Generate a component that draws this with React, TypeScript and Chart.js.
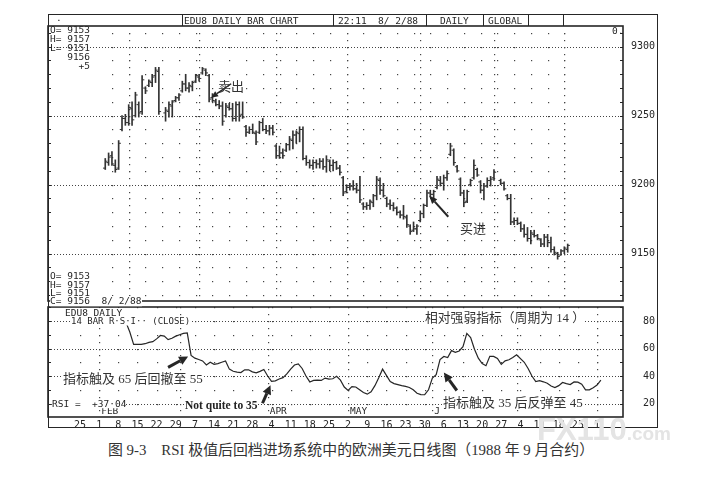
import { useEffect, useRef } from "react"
import { Chart, registerables } from "chart.js"

Chart.register(...registerables)

// one slot per weekday: slot 0 = Mon 25 Jan 1988, the first bar is Thu 21 Jan (slot -2)
// null = exchange holiday (15 Feb, 4 Jul)
const firstSlot = -2
const highs = [
  9219, 9223, 9224, 9218, 9232, 9250, 9251, 9258, 9260, 9267, 9260, 9279, 9271, 9276, 9280, 9285, 9285,
  null,
  9256, 9260, 9261, 9264, 9266, 9275, 9280, 9274, 9275, 9280, 9280, 9285, 9284, 9280, 9266, 9262, 9261, 9260, 9259, 9259, 9259, 9260, 9260, 9260,
  9243, 9242, 9244, 9239, 9246, 9248, 9243, 9243, 9243, 9229, 9228, 9226, 9230, 9235, 9239, 9239, 9242, 9242, 9221, 9218, 9218, 9218, 9219, 9219, 9221, 9218, 9218, 9217, 9214,
  9206, 9200, 9201, 9203, 9201, 9206, 9187, 9187, 9189, 9193, 9206, 9205, 9201, 9191, 9189, 9187, 9184, 9181, 9185, 9178, 9171, 9173, 9171, 9181, 9186, 9196, 9196, 9196, 9206, 9206, 9207, 9210,
  9230, 9226, 9214, 9205, 9196, 9196, 9204, 9218, 9212, 9203, 9201, 9205, 9206, 9211,
  null,
  9204, 9202, 9193, 9193, 9176, 9176, 9173, 9171, 9169, 9167, 9167, 9164, 9161, 9164, 9164, 9162, 9155, 9151, 9153, 9155, 9157,
]
const lows = [
  9211, 9214, 9214, 9209, 9211, 9239, 9243, 9243, 9243, 9249, 9249, 9251, 9266, 9271, 9271, 9274, 9251,
  null,
  9246, 9249, 9249, 9260, 9261, 9267, 9268, 9267, 9268, 9274, 9275, 9280, 9279, 9260, 9260, 9257, 9255, 9243, 9249, 9254, 9246, 9246, 9246, 9248,
  9235, 9237, 9237, 9229, 9237, 9239, 9237, 9236, 9236, 9219, 9219, 9219, 9224, 9225, 9226, 9230, 9231, 9218, 9214, 9212, 9211, 9212, 9212, 9211, 9209, 9210, 9210, 9211, 9207,
  9192, 9194, 9196, 9196, 9194, 9187, 9182, 9182, 9182, 9184, 9189, 9193, 9191, 9184, 9182, 9181, 9178, 9176, 9175, 9169, 9164, 9166, 9164, 9173, 9176, 9184, 9191, 9189, 9197, 9199, 9196, 9203,
  9221, 9214, 9209, 9192, 9184, 9187, 9199, 9204, 9206, 9194, 9189, 9198, 9199, 9203,
  null,
  9200, 9196, 9189, 9171, 9171, 9171, 9166, 9162, 9159, 9157, 9162, 9160, 9155, 9155, 9155, 9151, 9149, 9146, 9149, 9150, 9151,
]
const opens = [
  9212, 9216, 9221, 9214, 9212, 9240, 9248, 9245, 9255, 9250, 9258, 9253, 9270, 9272, 9274, 9279, 9282,
  null,
  9252, 9253, 9257, 9261, 9263, 9268, 9273, 9270, 9271, 9275, 9278, 9281, 9283, 9279, 9263, 9260, 9258, 9257, 9250, 9256, 9255, 9248, 9258, 9251,
  9242, 9238, 9240, 9237, 9238, 9245, 9240, 9239, 9241, 9228, 9221, 9223, 9225, 9229, 9232, 9236, 9237, 9240, 9219, 9216, 9214, 9216, 9215, 9217, 9213, 9217, 9214, 9216, 9212,
  9205, 9195, 9198, 9199, 9197, 9196, 9186, 9184, 9185, 9187, 9192, 9203, 9196, 9190, 9186, 9185, 9183, 9180, 9178, 9176, 9170, 9167, 9168, 9174, 9179, 9185, 9194, 9193, 9198, 9203, 9201, 9205,
  9222, 9225, 9213, 9204, 9194, 9188, 9200, 9205, 9211, 9202, 9196, 9199, 9203, 9205,
  null,
  9203, 9201, 9192, 9190, 9173, 9174, 9172, 9168, 9164, 9161, 9164, 9163, 9160, 9157, 9162, 9158, 9153, 9150, 9149, 9152, 9153,
]
const closes = [
  9217, 9220, 9215, 9211, 9230, 9248, 9245, 9256, 9247, 9265, 9252, 9276, 9268, 9275, 9278, 9283, 9253,
  null,
  9254, 9258, 9260, 9263, 9265, 9273, 9270, 9272, 9274, 9279, 9277, 9284, 9281, 9262, 9261, 9258, 9257, 9246, 9257, 9255, 9248, 9258, 9250, 9249,
  9238, 9240, 9238, 9231, 9245, 9240, 9239, 9241, 9238, 9221, 9223, 9221, 9229, 9233, 9236, 9238, 9240, 9219, 9216, 9214, 9216, 9215, 9217, 9213, 9218, 9214, 9216, 9212, 9209,
  9194, 9198, 9199, 9197, 9196, 9189, 9184, 9185, 9188, 9192, 9204, 9196, 9192, 9186, 9185, 9183, 9180, 9178, 9177, 9171, 9166, 9168, 9170, 9179, 9185, 9194, 9193, 9195, 9204, 9201, 9205, 9208,
  9228, 9216, 9210, 9194, 9187, 9195, 9203, 9214, 9207, 9196, 9199, 9203, 9204, 9209,
  null,
  9201, 9197, 9190, 9173, 9174, 9172, 9168, 9164, 9161, 9165, 9163, 9161, 9157, 9162, 9158, 9153, 9151, 9148, 9152, 9154, 9156,
]

// 14 bar RSI on close, first value at slot 12
const rsiFirstSlot = 12
const rsi = [
  79, 72, 63, null,
  63, 63.5, 64.5, 65, 67, 69.5, 69, 66.5, 67.5, 69,
  70, 71, 71.3, 55, 53, 52, 51, 48, 50, 48.5,
  49, 50, 51, 45, 43.5, 42.8, 42.5, 44.5, 44.5, 43,
  42.3, 43.4, 44.8, 40, 36.2, 36.5, 37.8, 38.8, 41.5, 45,
  48, 48.8, 45.5, 40, 35.7, 36.8, 37, 36.8, 38.5, 37.8,
  38, 39.8, 37, 32, 29.5, 32.3, 32, 30, 28, 26.8,
  28.5, 33, 38.8, 45, 40.5, 36, 34.5, 33.8, 33, 32.5,
  31.7, 30, 27.5, 26.5, 26.4, 30, 38.5, 41, 52, 54.2,
  53.4, 58.5, 57.3, 58.2, 61.3, 71, 68, 59.5, 53, 49,
  47.5, 54.3, 54.3, 52.8, 48.5, 51, 51.8, 53.4, 55.4, null,
  50, 45.5, 40, 36, 36.6, 35.8, 34.7, 32.7, 31.6, 33,
  35.3, 34.5, 33.8, 35.7, 35.5, 34, 30, 30, 31.5, 33.4, 37.04,
]

// Mondays, one every 5 slots starting at slot 0
const weekLabels = ["25", "1", "8", "15", "22", "29", "7", "14", "21", "28", "4", "11", "18", "25",
  "2", "9", "16", "23", "30", "6", "13", "20", "27", "4", "11", "18", "25", "1"]
// first weekday of each month; only the tags left readable in the print are kept
const monthSlots = [5, 26, 49, 70, 92, 114, 135]
const monthTags = ["FEB", "", "APR", "MAY", "J", "", ""]
const priceLabels = [9150, 9200, 9250, 9300]
const rsiLabels = [20, 40, 60, 80]

const X_MIN = -8.36
const X_MAX = 141.78
const INK = "#262626"
const BAR = "#333"
const mono = '"DejaVu Sans Mono", "Liberation Mono", monospace'
const serif = '"Liberation Serif", "Noto Sans CJK SC", serif'

const levels = (from: number, to: number, step: number) => {
  const out: number[] = []
  for (let v = from; v <= to + 0.001; v += step) out.push(v)
  return out
}

// keep the axes from pushing the plot area in
const noPad = (s: any) => {
  s.paddingTop = 0
  s.paddingBottom = 0
  s.paddingLeft = 0
  s.paddingRight = 0
}

const arrow = (ctx: any, tx: number, ty: number, dx: number, dy: number, shaft: number, head: number, wide: number) => {
  const len = Math.hypot(dx, dy)
  const ux = -dx / len, uy = -dy / len
  const bx = tx - ux * head, by = ty - uy * head
  ctx.lineWidth = shaft
  ctx.beginPath()
  ctx.moveTo(tx + dx, ty + dy)
  ctx.lineTo(bx, by)
  ctx.stroke()
  ctx.beginPath()
  ctx.moveTo(tx, ty)
  ctx.lineTo(bx - uy * wide, by + ux * wide)
  ctx.lineTo(bx + uy * wide, by - ux * wide)
  ctx.closePath()
  ctx.fill()
}

const panelPlugin = (yId: string, minor: number[], major: number[], half: number[], extra: (chart: any) => void) => ({
  id: "panel-" + yId,
  beforeDatasetsDraw(chart: any) {
    const { ctx, chartArea: a, scales } = chart
    const xs = scales.x, ys = scales[yId]
    ctx.save()
    ctx.fillStyle = "#444"
    for (const v of major) {
      const y = Math.round(ys.getPixelForValue(v))
      for (let x = a.left + 3; x < a.right - 2; x += 3) ctx.fillRect(x, y, 1, 1)
    }
    weekLabels.forEach((_, k) => {
      const x = Math.round(xs.getPixelForValue(k * 5))
      for (const v of minor) ctx.fillRect(x, Math.round(ys.getPixelForValue(v)), 1.2, 1.2)
    })
    for (const s of monthSlots) {
      const x = Math.round(xs.getPixelForValue(s))
      for (const v of half) ctx.fillRect(x, Math.round(ys.getPixelForValue(v)), 1.2, 1.2)
    }
    ctx.restore()
  },
  afterDatasetsDraw(chart: any) {
    const { ctx, chartArea: a, scales } = chart
    const ys = scales[yId]
    ctx.save()
    ctx.strokeStyle = INK
    ctx.fillStyle = INK
    ctx.lineWidth = 1
    for (const v of minor) {
      const y = Math.round(ys.getPixelForValue(v)) + 0.5
      ctx.beginPath()
      ctx.moveTo(a.left, y); ctx.lineTo(a.left + 3, y)
      ctx.moveTo(a.right - 3, y); ctx.lineTo(a.right, y)
      ctx.stroke()
    }
    ctx.lineWidth = 1.6
    ctx.strokeRect(a.left, a.top, a.right - a.left, a.bottom - a.top)
    extra(chart)
    ctx.restore()
  },
})

const Txt = ({ x, y, size = 9.5, font = mono, bg = false, bold = false, color = INK, lh = 1, children }: any) => (
  <div
    style={{
      position: "absolute", left: x, top: y, transform: "translateY(-50%)",
      fontFamily: font, fontSize: size, fontWeight: bold ? 700 : 400, lineHeight: lh,
      whiteSpace: "pre", color, background: bg ? "#fff" : "transparent",
    }}
  >
    {children}
  </div>
)

export default function App() {
  const priceRef = useRef<HTMLCanvasElement | null>(null)
  const rsiRef = useRef<HTMLCanvasElement | null>(null)

  useEffect(() => {
    if (!priceRef.current || !rsiRef.current) return

    const bars: any[] = [], openPts: any[] = [], closePts: any[] = []
    highs.forEach((h, k) => {
      if (h === null) return
      const x = firstSlot + k
      bars.push({ x, y: [lows[k], h] })
      openPts.push({ x: x - 0.34, y: opens[k] })
      closePts.push({ x: x + 0.34, y: closes[k] })
    })
    const rsiPts = rsi.map((v, k) => ({ x: rsiFirstSlot + k, y: v }))

    const tickFont = { family: mono, size: 10 }
    const tickPts = { pointStyle: "line", pointRadius: 1.1, pointBorderWidth: 1, borderColor: BAR, showLine: false }

    const price = new Chart(priceRef.current, {
      type: "bar",
      data: {
        datasets: [
          { type: "bar", data: bars, backgroundColor: BAR, barThickness: 1, grouped: false } as any,
          { type: "line", data: openPts, ...tickPts } as any,
          { type: "line", data: closePts, ...tickPts } as any,
        ],
      },
      options: {
        animation: false,
        responsive: false,
        events: [],
        layout: { padding: { left: 48, top: 26, right: 0, bottom: 1 } },
        plugins: { legend: { display: false }, tooltip: { enabled: false } },
        scales: {
          x: { type: "linear", min: X_MIN, max: X_MAX, display: false },
          y: {
            type: "linear", position: "right", min: 9115.7, max: 9315,
            afterBuildTicks: (s: any) => { s.ticks = priceLabels.map((v) => ({ value: v })) },
            afterFit: (s: any) => { s.width = 96; noPad(s) },
            grid: { display: false, drawTicks: false },
            border: { display: false },
            ticks: { padding: 8, color: INK, font: tickFont, callback: (v: any) => String(v) },
          },
        },
      } as any,
      plugins: [
        panelPlugin("y", levels(9120, 9310, 10), priceLabels, levels(9120, 9310, 5), (chart) => {
          const { ctx, scales } = chart
          const xs = scales.x, ys = scales.y
          // 卖出 / 买进 arrows
          arrow(ctx, xs.getPixelForValue(29) + 2, ys.getPixelForValue(9263), 20, -14, 1.5, 7, 3)
          arrow(ctx, xs.getPixelForValue(95) - 1, ys.getPixelForValue(9192), 19, 21, 2, 8, 3.5)
        }),
      ],
    })

    const osc = new Chart(rsiRef.current, {
      type: "line",
      data: {
        datasets: [
          { data: rsiPts, borderColor: INK, borderWidth: 1.2, pointRadius: 0, spanGaps: true, tension: 0 },
        ],
      },
      options: {
        animation: false,
        responsive: false,
        events: [],
        layout: { padding: { left: 48, top: 1, right: 0, bottom: 1 } },
        plugins: { legend: { display: false }, tooltip: { enabled: false } },
        scales: {
          x: {
            type: "linear", position: "bottom", min: X_MIN, max: X_MAX,
            afterBuildTicks: (s: any) => { s.ticks = weekLabels.map((_, k) => ({ value: k * 5 })) },
            afterFit: (s: any) => { s.height = 12; noPad(s) },
            grid: { display: false, drawTicks: false },
            border: { display: false },
            ticks: { autoSkip: false, maxRotation: 0, padding: 2, color: INK, font: tickFont, callback: (_v: any, i: number) => weekLabels[i] },
          },
          y: {
            type: "linear", position: "right", min: 10.2, max: 90.2,
            afterBuildTicks: (s: any) => { s.ticks = rsiLabels.map((v) => ({ value: v })) },
            afterFit: (s: any) => { s.width = 96; noPad(s) },
            grid: { display: false, drawTicks: false },
            border: { display: false },
            ticks: { padding: 20, color: INK, font: tickFont, callback: (v: any) => String(v) },
          },
        },
      } as any,
      plugins: [
        panelPlugin("y", levels(20, 90, 10), rsiLabels, levels(15, 90, 5), (chart) => {
          const { ctx, scales } = chart
          const xs = scales.x, ys = scales.y
          ctx.font = `9.5px ${mono}`
          ctx.textBaseline = "middle"
          monthSlots.forEach((s, k) => {
            if (monthTags[k]) ctx.fillText(monthTags[k], xs.getPixelForValue(s) + 2, ys.getPixelForValue(14.3))
          })
          arrow(ctx, xs.getPixelForValue(29) - 3, ys.getPixelForValue(55) + 1, -20, 11, 3, 9, 4.5)
          arrow(ctx, xs.getPixelForValue(50) - 1, ys.getPixelForValue(36.2) + 4, -8, 18, 3, 9, 4.5)
          arrow(ctx, xs.getPixelForValue(95), ys.getPixelForValue(54.2) + 16, 13, 18, 3, 9, 4.5)
        }),
      ],
    })

    return () => {
      price.destroy()
      osc.destroy()
    }
  }, [])

  const cjk = serif
  return (
    <div style={{ position: "absolute", left: 0, top: 0, width: 719, height: 480, background: "#fff", overflow: "hidden" }}>
      <canvas ref={priceRef} width={719} height={306} style={{ position: "absolute", left: 0, top: 0, width: 719, height: 306 }} />
      <canvas ref={rsiRef} width={719} height={124} style={{ position: "absolute", left: 0, top: 306, width: 719, height: 124 }} />

      {/* outer frame and header cells */}
      <div style={{ position: "absolute", left: 48, top: 14, width: 610, height: 414, border: `1.5px solid ${INK}`, boxSizing: "border-box" }} />
      {[182, 333, 426, 483, 528, 563].map((x) => (
        <div key={x} style={{ position: "absolute", left: x, top: 14, width: 1.3, height: 12, background: INK }} />
      ))}
      <Txt x={56} y={18}>.</Txt>
      <Txt x={184} y={20.5}>EDU8 DAILY BAR CHART</Txt>
      <Txt x={338} y={20.5}>{"22:11  8/ 2/88"}</Txt>
      <Txt x={440} y={20.5}>DAILY</Txt>
      <Txt x={488} y={20.5}>GLOBAL</Txt>

      {/* price panel read-outs */}
      <Txt x={50} y={30}>O= 9153</Txt>
      <Txt x={50} y={39}>H= 9157</Txt>
      <Txt x={50} y={47.5}>L= 9151</Txt>
      <Txt x={50} y={57}>{"   9156"}</Txt>
      <Txt x={50} y={66}>{"     +5"}</Txt>
      <Txt x={612} y={31}>0.</Txt>
      <Txt x={50} y={276} bg>O= 9153</Txt>
      <Txt x={50} y={284.5} bg>H= 9157</Txt>
      <Txt x={50} y={292.5} bg>L= 9151</Txt>
      <Txt x={50} y={301} bg>{"C= 9156  8/ 2/88"}</Txt>

      {/* RSI panel read-outs */}
      <Txt x={65} y={313} bg>EDU8 DAILY</Txt>
      <Txt x={71} y={321} size={9} bg>{"14 BAR R·S·I·· (CLOSE)"}</Txt>
      <Txt x={52} y={404} bg lh={0.8}>{"RSI =  +37·04"}</Txt>

      {/* annotations */}
      <Txt x={218} y={86} size={13} font={cjk} color="#333">卖出</Txt>
      <Txt x={460} y={228} size={13} font={cjk} color="#333">买进</Txt>
      <Txt x={425} y={318} size={12.8} font={cjk} color="#333" bg>相对强弱指标（周期为 14 ）</Txt>
      <Txt x={63} y={378} size={13} font={cjk} color="#333" bg>指标触及 65 后回撤至 55</Txt>
      <Txt x={185} y={406} size={11.5} font={serif} color="#222" bold bg>Not quite to 35</Txt>
      <Txt x={443} y={402} size={13} font={cjk} color="#333" bg>指标触及 35 后反弹至 45</Txt>

      {/* caption */}
      <Txt x={108} y={450} size={14.9} font={cjk} color="#333">{"图 9-3    RSI 极值后回档进场系统中的欧洲美元日线图（1988 年 9 月合约）"}</Txt>

      {/* scan watermark */}
      <div style={{ position: "absolute", left: 537, top: 414, fontFamily: '"Liberation Sans", sans-serif', fontWeight: 700, lineHeight: 1, whiteSpace: "pre", color: "#e4e4e4" }}>
        <span style={{ fontSize: 31 }}>FX110</span>
        <span style={{ fontSize: 19 }}>.com</span>
      </div>
    </div>
  )
}
